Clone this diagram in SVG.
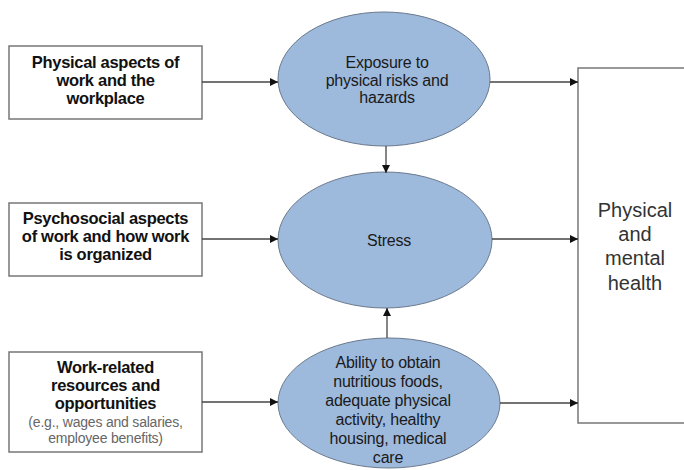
<svg xmlns="http://www.w3.org/2000/svg" width="684" height="470" viewBox="0 0 684 470">
<style>
.box{fill:#fff;stroke:#777;stroke-width:1.5}
.ell{fill:#9db9dc;stroke:#6b7a8c;stroke-width:1}
.bt{font-family:"Liberation Sans",Arial,sans-serif;font-size:16.5px;font-weight:bold;fill:#111;text-anchor:middle;letter-spacing:-0.3px}
.st{font-family:"Liberation Sans",Arial,sans-serif;font-size:14px;fill:#666;text-anchor:middle;letter-spacing:-0.2px}
.et{font-family:"Liberation Sans",Arial,sans-serif;font-size:16px;fill:#1a1a1a;text-anchor:middle;letter-spacing:-0.2px}
.ht{font-family:"Liberation Sans",Arial,sans-serif;font-size:20px;fill:#333;text-anchor:middle}
.c{stroke:#444;stroke-width:1.3;fill:none;marker-end:url(#ah)}
</style>
<defs>
<marker id="ah" viewBox="0 0 10 10" refX="10" refY="5" markerWidth="8" markerHeight="8" markerUnits="userSpaceOnUse" orient="auto">
<path d="M0,0 L10,5 L0,10 z" fill="#111"/>
</marker>
</defs>
<rect width="684" height="470" fill="#fff"/>
<g id="health">
<rect class="box" x="578" y="68" width="120" height="355"/>
<text class="ht" x="635" y="217">Physical</text>
<text class="ht" x="635" y="241">and</text>
<text class="ht" x="635" y="265">mental</text>
<text class="ht" x="635" y="290">health</text>
</g>
<g id="physical-aspects">
<rect class="box" x="9" y="46" width="193" height="73"/>
<text class="bt" x="105.5" y="68">Physical aspects of</text>
<text class="bt" x="105.5" y="86">work and the</text>
<text class="bt" x="105.5" y="104">workplace</text>
</g>
<g id="psychosocial-aspects">
<rect class="box" x="9" y="203" width="193" height="73"/>
<text class="bt" x="105.5" y="224">Psychosocial aspects</text>
<text class="bt" x="105.5" y="242">of work and how work</text>
<text class="bt" x="105.5" y="260">is organized</text>
</g>
<g id="resources">
<rect class="box" x="9" y="352" width="193" height="100"/>
<text class="bt" x="105.5" y="373">Work-related</text>
<text class="bt" x="105.5" y="391">resources and</text>
<text class="bt" x="105.5" y="409">opportunities</text>
<text class="st" x="105.5" y="427">(e.g., wages and salaries,</text>
<text class="st" x="105.5" y="443">employee benefits)</text>
</g>
<g id="exposure">
<ellipse class="ell" cx="384" cy="79" rx="106" ry="67"/>
<text class="et" x="387" y="68">Exposure to</text>
<text class="et" x="387" y="86">physical risks and</text>
<text class="et" x="387" y="103">hazards</text>
</g>
<g id="stress">
<ellipse class="ell" cx="385" cy="240" rx="107" ry="68"/>
<text class="et" x="389" y="246">Stress</text>
</g>
<g id="ability">
<ellipse class="ell" cx="389" cy="403" rx="111" ry="65"/>
<text class="et" x="388" y="368">Ability to obtain</text>
<text class="et" x="388" y="387">nutritious foods,</text>
<text class="et" x="388" y="406">adequate physical</text>
<text class="et" x="388" y="425">activity, healthy</text>
<text class="et" x="388" y="444">housing, medical</text>
<text class="et" x="388" y="463">care</text>
</g>
<g id="connectors">
<line class="c" x1="202" y1="82" x2="278" y2="82"/>
<line class="c" x1="202" y1="239" x2="278" y2="239"/>
<line class="c" x1="202" y1="402" x2="278" y2="402"/>
<line class="c" x1="490" y1="82" x2="578" y2="82"/>
<line class="c" x1="492" y1="239" x2="578" y2="239"/>
<line class="c" x1="500" y1="403" x2="578" y2="403"/>
<line class="c" x1="386" y1="146" x2="386" y2="173"/>
<line class="c" x1="387" y1="338" x2="387" y2="308"/>
</g>
</svg>
